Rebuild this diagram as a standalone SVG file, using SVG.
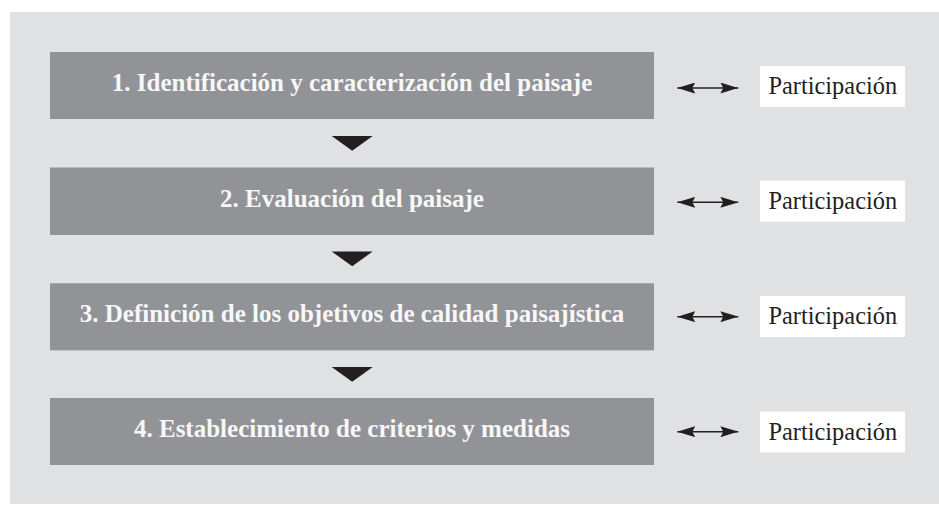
<svg xmlns="http://www.w3.org/2000/svg" width="939" height="519" viewBox="0 0 939 519">
  <defs>
    <style>
      .panel { fill: #e0e1e3; }
      .step { fill: #929397; }
      .step-text { font-family: "Liberation Serif", "Times New Roman", serif; font-weight: bold; font-size: 25px; fill: #f7f7f7; text-anchor: middle; }
      .part { fill: #ffffff; }
      .part-text { font-family: "Liberation Serif", "Times New Roman", serif; font-size: 24.4px; fill: #231f20; text-anchor: middle; }
      .link { stroke: #231f20; stroke-width: 1.4; fill: none; }
      .head { fill: #231f20; }
    </style>
    <marker id="arrowEnd" viewBox="0 0 18 11" refX="18" refY="5.5" markerWidth="18" markerHeight="11" markerUnits="userSpaceOnUse" orient="auto">
      <path d="M0,0 L18,5.5 L0,11 L3,5.5 Z" class="head"/>
    </marker>
    <marker id="arrowStart" viewBox="0 0 18 11" refX="0" refY="5.5" markerWidth="18" markerHeight="11" markerUnits="userSpaceOnUse" orient="auto">
      <path d="M18,0 L0,5.5 L18,11 L15,5.5 Z" class="head"/>
    </marker>
  </defs>

  <rect class="panel" x="10" y="12" width="929" height="492"/>

  <g id="step1">
    <rect class="step" x="50" y="52" width="604" height="67"/>
    <text class="step-text" x="352" y="91">1. Identificación y caracterización del paisaje</text>
  </g>
  <g id="step2">
    <rect class="step" x="50" y="167.5" width="604" height="67.5"/>
    <text class="step-text" x="352" y="206.5">2. Evaluación del paisaje</text>
  </g>
  <g id="step3">
    <rect class="step" x="50" y="283.3" width="604" height="67"/>
    <text class="step-text" x="352" y="322.3">3. Definición de los objetivos de calidad paisajística</text>
  </g>
  <g id="step4">
    <rect class="step" x="50" y="398" width="604" height="67"/>
    <text class="step-text" x="352" y="437">4. Establecimiento de criterios y medidas</text>
  </g>

  <g id="part1">
    <rect class="part" x="760" y="66" width="145" height="41"/>
    <text class="part-text" x="832.8" y="94.3">Participación</text>
  </g>
  <g id="part2">
    <rect class="part" x="760" y="180.7" width="145" height="41"/>
    <text class="part-text" x="832.8" y="209">Participación</text>
  </g>
  <g id="part3">
    <rect class="part" x="760" y="296" width="145" height="41"/>
    <text class="part-text" x="832.8" y="324.3">Participación</text>
  </g>
  <g id="part4">
    <rect class="part" x="760" y="411.5" width="145" height="41"/>
    <text class="part-text" x="832.8" y="439.8">Participación</text>
  </g>

  <g id="connectors">
    <polygon class="head" points="331.7,136 372.7,136 352.2,150.7"/>
    <polygon class="head" points="331.7,251.5 372.7,251.5 352.2,266.2"/>
    <polygon class="head" points="331.7,367 372.7,367 352.2,381.7"/>
    <line class="link" x1="677.3" y1="88" x2="738.3" y2="88" marker-start="url(#arrowStart)" marker-end="url(#arrowEnd)"/>
    <line class="link" x1="677.3" y1="202.3" x2="738.3" y2="202.3" marker-start="url(#arrowStart)" marker-end="url(#arrowEnd)"/>
    <line class="link" x1="677.3" y1="316.7" x2="738.3" y2="316.7" marker-start="url(#arrowStart)" marker-end="url(#arrowEnd)"/>
    <line class="link" x1="677.3" y1="431.7" x2="738.3" y2="431.7" marker-start="url(#arrowStart)" marker-end="url(#arrowEnd)"/>
  </g>
</svg>
